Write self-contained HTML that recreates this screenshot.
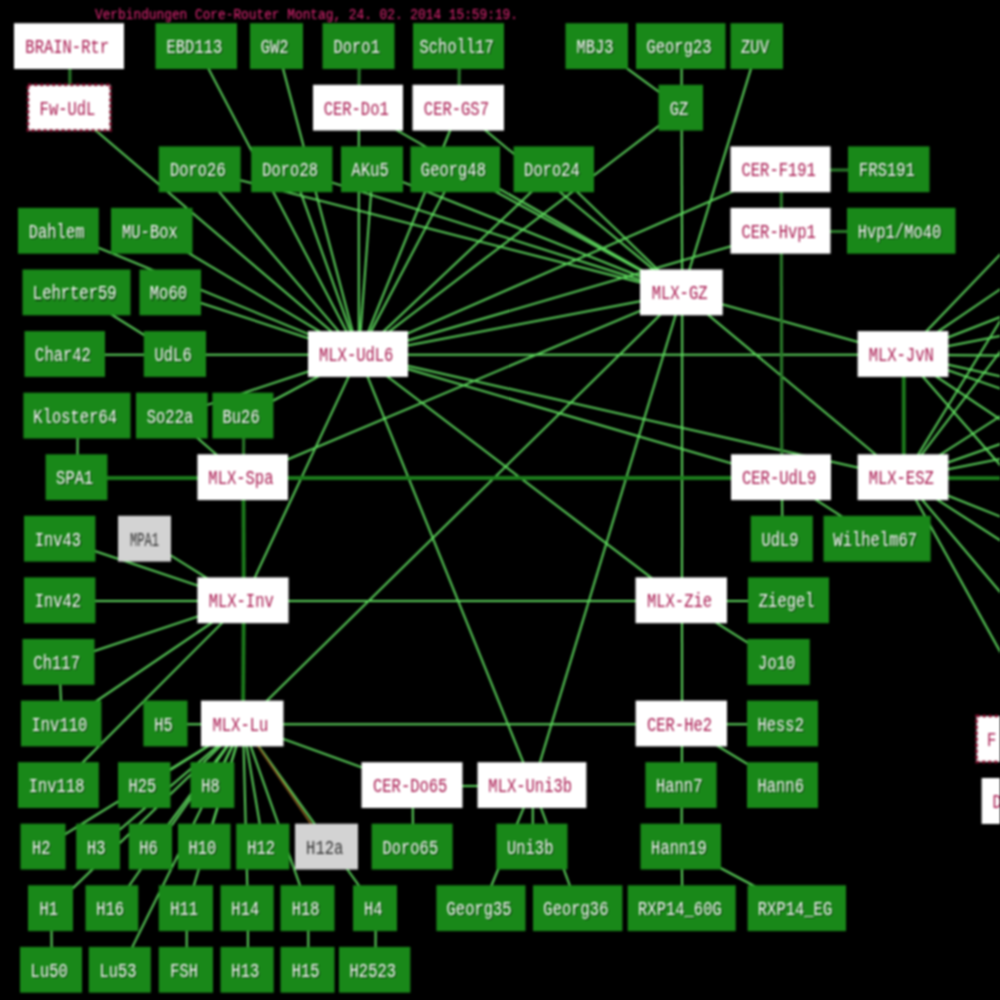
<!DOCTYPE html><html><head><meta charset="utf-8"><style>html,body{margin:0;padding:0;background:#000;width:1000px;height:1000px;overflow:hidden}svg{display:block}#w{filter:blur(1px);width:1000px;height:1000px}</style></head><body><div id="w">
<svg width="1000" height="1000" viewBox="0 0 1000 1000">
<rect x="0" y="0" width="1000" height="1000" fill="#000"/>
<text x="95" y="0" transform="translate(0 18.6) scale(1 1.45)" font-family="Liberation Mono" font-size="9.6" fill="#e8287a" textLength="423" lengthAdjust="spacingAndGlyphs">Verbindungen Core-Router Montag, 24. 02. 2014 15:59:19.</text>
<g transform="translate(0.8 0.8)"><g stroke="#5cd65c" stroke-width="2" fill="none">
<line x1="69.2" y1="107.7" x2="358.0" y2="354.0"/>
<line x1="196.2" y1="46.1" x2="358.0" y2="354.0"/>
<line x1="276.5" y1="46.1" x2="358.0" y2="354.0"/>
<line x1="358.0" y1="107.7" x2="358.0" y2="354.0"/>
<line x1="358.0" y1="107.7" x2="681.4" y2="292.4"/>
<line x1="458.2" y1="107.7" x2="358.0" y2="354.0"/>
<line x1="458.2" y1="107.7" x2="681.4" y2="292.4"/>
<line x1="596.8" y1="46.1" x2="680.8" y2="107.7"/>
<line x1="680.8" y1="46.1" x2="680.8" y2="107.7"/>
<line x1="680.8" y1="107.7" x2="681.4" y2="292.4"/>
<line x1="680.8" y1="107.7" x2="358.0" y2="354.0"/>
<line x1="756.8" y1="46.1" x2="681.4" y2="292.4"/>
<line x1="199.6" y1="169.3" x2="358.0" y2="354.0"/>
<line x1="199.6" y1="169.3" x2="681.4" y2="292.4"/>
<line x1="291.9" y1="169.3" x2="358.0" y2="354.0"/>
<line x1="291.9" y1="169.3" x2="681.4" y2="292.4"/>
<line x1="372.0" y1="169.3" x2="358.0" y2="354.0"/>
<line x1="372.0" y1="169.3" x2="681.4" y2="292.4"/>
<line x1="455.2" y1="169.3" x2="358.0" y2="354.0"/>
<line x1="455.2" y1="169.3" x2="681.4" y2="292.4"/>
<line x1="553.8" y1="169.3" x2="358.0" y2="354.0"/>
<line x1="553.8" y1="169.3" x2="681.4" y2="292.4"/>
<line x1="780.5" y1="169.3" x2="358.0" y2="354.0"/>
<line x1="780.5" y1="230.8" x2="358.0" y2="354.0"/>
<line x1="58.4" y1="230.8" x2="358.0" y2="354.0"/>
<line x1="151.8" y1="230.8" x2="358.0" y2="354.0"/>
<line x1="76.5" y1="292.4" x2="174.9" y2="354.0"/>
<line x1="170.2" y1="292.4" x2="358.0" y2="354.0"/>
<line x1="64.8" y1="354.0" x2="174.9" y2="354.0"/>
<line x1="174.9" y1="354.0" x2="358.0" y2="354.0"/>
<line x1="358.0" y1="354.0" x2="903.0" y2="354.0"/>
<line x1="358.0" y1="354.0" x2="681.4" y2="292.4"/>
<line x1="358.0" y1="354.0" x2="781.0" y2="477.2"/>
<line x1="358.0" y1="354.0" x2="903.0" y2="477.2"/>
<line x1="358.0" y1="354.0" x2="681.2" y2="600.3"/>
<line x1="358.0" y1="354.0" x2="532.0" y2="785.1"/>
<line x1="358.0" y1="354.0" x2="243.0" y2="600.3"/>
<line x1="77.0" y1="415.6" x2="76.5" y2="477.2"/>
<line x1="171.8" y1="415.6" x2="242.7" y2="477.2"/>
<line x1="242.9" y1="415.6" x2="358.0" y2="354.0"/>
<line x1="171.8" y1="415.6" x2="358.0" y2="354.0"/>
<line x1="242.7" y1="477.2" x2="681.4" y2="292.4"/>
<line x1="59.7" y1="538.7" x2="243.0" y2="600.3"/>
<line x1="144.5" y1="538.7" x2="243.0" y2="600.3"/>
<line x1="59.7" y1="600.3" x2="243.0" y2="600.3"/>
<line x1="58.5" y1="661.9" x2="243.0" y2="600.3"/>
<line x1="58.5" y1="661.9" x2="61.2" y2="723.5"/>
<line x1="61.2" y1="723.5" x2="243.0" y2="600.3"/>
<line x1="58.4" y1="785.1" x2="243.0" y2="600.3"/>
<line x1="243.0" y1="600.3" x2="681.2" y2="600.3"/>
<line x1="165.4" y1="723.5" x2="242.2" y2="723.5"/>
<line x1="242.2" y1="723.5" x2="681.3" y2="723.5"/>
<line x1="242.2" y1="723.5" x2="681.4" y2="292.4"/>
<line x1="242.2" y1="723.5" x2="412.0" y2="785.1"/>
<line x1="242.2" y1="723.5" x2="144.2" y2="785.1"/>
<line x1="242.2" y1="723.5" x2="212.4" y2="785.1"/>
<line x1="242.2" y1="723.5" x2="43.0" y2="846.6"/>
<line x1="242.2" y1="723.5" x2="98.1" y2="846.6"/>
<line x1="242.2" y1="723.5" x2="150.4" y2="846.6"/>
<line x1="242.2" y1="723.5" x2="204.2" y2="846.6"/>
<line x1="242.2" y1="723.5" x2="262.9" y2="846.6"/>
<line x1="242.2" y1="723.5" x2="50.5" y2="908.2"/>
<line x1="242.2" y1="723.5" x2="111.9" y2="908.2"/>
<line x1="242.2" y1="723.5" x2="185.9" y2="908.2"/>
<line x1="242.2" y1="723.5" x2="247.1" y2="908.2"/>
<line x1="242.2" y1="723.5" x2="307.5" y2="908.2"/>
<line x1="242.2" y1="723.5" x2="375.0" y2="908.2"/>
<line x1="242.2" y1="723.5" x2="119.8" y2="969.8"/>
<line x1="50.5" y1="908.2" x2="51.0" y2="969.8"/>
<line x1="185.9" y1="908.2" x2="185.9" y2="969.8"/>
<line x1="247.1" y1="908.2" x2="247.1" y2="969.8"/>
<line x1="307.5" y1="908.2" x2="307.5" y2="969.8"/>
<line x1="375.0" y1="908.2" x2="374.6" y2="969.8"/>
<line x1="412.0" y1="785.1" x2="412.1" y2="846.6"/>
<line x1="412.0" y1="785.1" x2="532.0" y2="785.1"/>
<line x1="532.0" y1="785.1" x2="532.0" y2="846.6"/>
<line x1="532.0" y1="785.1" x2="480.9" y2="908.2"/>
<line x1="532.0" y1="785.1" x2="577.7" y2="908.2"/>
<line x1="681.4" y1="292.4" x2="532.0" y2="785.1"/>
<line x1="681.4" y1="292.4" x2="681.2" y2="600.3"/>
<line x1="681.2" y1="600.3" x2="681.3" y2="723.5"/>
<line x1="681.3" y1="723.5" x2="681.0" y2="785.1"/>
<line x1="681.0" y1="785.1" x2="680.8" y2="846.6"/>
<line x1="680.8" y1="846.6" x2="681.7" y2="908.2"/>
<line x1="680.8" y1="846.6" x2="796.8" y2="908.2"/>
<line x1="681.2" y1="600.3" x2="788.5" y2="600.3"/>
<line x1="681.2" y1="600.3" x2="778.5" y2="661.9"/>
<line x1="681.3" y1="723.5" x2="782.5" y2="723.5"/>
<line x1="681.3" y1="723.5" x2="782.5" y2="785.1"/>
<line x1="781.0" y1="477.2" x2="781.8" y2="538.7"/>
<line x1="781.0" y1="477.2" x2="877.0" y2="538.7"/>
<line x1="681.4" y1="292.4" x2="903.0" y2="354.0"/>
<line x1="681.4" y1="292.4" x2="903.0" y2="477.2"/>
<line x1="903.0" y1="354.0" x2="1100.0" y2="148.9"/>
<line x1="903.0" y1="354.0" x2="1100.0" y2="220.0"/>
<line x1="903.0" y1="354.0" x2="1100.0" y2="276.8"/>
<line x1="903.0" y1="354.0" x2="1100.0" y2="315.4"/>
<line x1="903.0" y1="354.0" x2="1100.0" y2="355.2"/>
<line x1="903.0" y1="354.0" x2="1100.0" y2="397.9"/>
<line x1="903.0" y1="354.0" x2="1100.0" y2="423.1"/>
<line x1="903.0" y1="354.0" x2="1100.0" y2="486.0"/>
<line x1="903.0" y1="354.0" x2="1100.0" y2="579.4"/>
<line x1="903.0" y1="477.2" x2="1100.0" y2="155.9"/>
<line x1="903.0" y1="477.2" x2="1100.0" y2="218.9"/>
<line x1="903.0" y1="477.2" x2="1100.0" y2="350.9"/>
<line x1="903.0" y1="477.2" x2="1100.0" y2="407.8"/>
<line x1="903.0" y1="477.2" x2="1100.0" y2="438.2"/>
<line x1="903.0" y1="477.2" x2="1100.0" y2="556.0"/>
<line x1="903.0" y1="477.2" x2="1100.0" y2="604.8"/>
<line x1="903.0" y1="477.2" x2="1100.0" y2="710.4"/>
<line x1="903.0" y1="477.2" x2="1100.0" y2="832.2"/>
</g>
<g stroke="#1c7c1c" stroke-width="3.8" fill="none">
<line x1="903.0" y1="354.0" x2="903.0" y2="477.2"/>
<line x1="76.5" y1="477.2" x2="242.7" y2="477.2"/>
<line x1="242.7" y1="477.2" x2="243.0" y2="600.3"/>
<line x1="243.0" y1="600.3" x2="242.2" y2="723.5"/>
<line x1="242.7" y1="477.2" x2="781.0" y2="477.2"/>
<line x1="903.0" y1="477.2" x2="1100" y2="477.5"/>
</g>
<g stroke="#2a7a2a" stroke-width="3" fill="none">
<line x1="780.5" y1="230.8" x2="901.2" y2="230.8"/>
<line x1="780.5" y1="169.3" x2="888.8" y2="169.3"/>
<line x1="69.0" y1="46.1" x2="69.2" y2="107.7"/>
<line x1="242.9" y1="415.6" x2="242.7" y2="477.2"/>
<line x1="780.5" y1="169.3" x2="780.5" y2="230.8"/>
<line x1="780.5" y1="230.8" x2="781.0" y2="477.2"/>
<line x1="358.5" y1="46.1" x2="358.0" y2="107.7"/>
<line x1="458.5" y1="46.1" x2="458.2" y2="107.7"/>
</g>
<g stroke="#8a5a20" stroke-width="1.8" fill="none">
<line x1="242.2" y1="723.5" x2="326.5" y2="846.6"/>
</g>
</g>
<rect x="14.0" y="23.2" width="110.0" height="45.8" fill="#ffffff"/>
<text x="67.2" y="0" transform="translate(0 53.1) scale(1 1.28)" font-family="Liberation Mono" font-size="15.5" fill="#a8184f" stroke="#a8184f" stroke-width="0.0" text-anchor="middle">BRAIN-Rtr</text>
<rect x="155.5" y="23.2" width="81.5" height="45.8" fill="#198819"/>
<text x="195.5" y="0" transform="translate(0 54.2) scale(1 1.28)" font-family="Liberation Mono" font-size="15.5" fill="#0d3d0d" text-anchor="middle">EBD113</text>
<text x="194.4" y="0" transform="translate(0 53.1) scale(1 1.28)" font-family="Liberation Mono" font-size="15.5" fill="#ffffff" stroke="#198819" stroke-width="0.0" text-anchor="middle">EBD113</text>
<rect x="250.0" y="23.2" width="53.0" height="45.8" fill="#198819"/>
<text x="275.8" y="0" transform="translate(0 54.2) scale(1 1.28)" font-family="Liberation Mono" font-size="15.5" fill="#0d3d0d" text-anchor="middle">GW2</text>
<text x="274.7" y="0" transform="translate(0 53.1) scale(1 1.28)" font-family="Liberation Mono" font-size="15.5" fill="#ffffff" stroke="#198819" stroke-width="0.0" text-anchor="middle">GW2</text>
<rect x="322.5" y="23.2" width="72.0" height="45.8" fill="#198819"/>
<text x="357.8" y="0" transform="translate(0 54.2) scale(1 1.28)" font-family="Liberation Mono" font-size="15.5" fill="#0d3d0d" text-anchor="middle">Doro1</text>
<text x="356.7" y="0" transform="translate(0 53.1) scale(1 1.28)" font-family="Liberation Mono" font-size="15.5" fill="#ffffff" stroke="#198819" stroke-width="0.0" text-anchor="middle">Doro1</text>
<rect x="413.0" y="23.2" width="91.0" height="45.8" fill="#198819"/>
<text x="457.8" y="0" transform="translate(0 54.2) scale(1 1.28)" font-family="Liberation Mono" font-size="15.5" fill="#0d3d0d" text-anchor="middle">Scholl17</text>
<text x="456.7" y="0" transform="translate(0 53.1) scale(1 1.28)" font-family="Liberation Mono" font-size="15.5" fill="#ffffff" stroke="#198819" stroke-width="0.0" text-anchor="middle">Scholl17</text>
<rect x="565.5" y="23.2" width="62.5" height="45.8" fill="#198819"/>
<text x="596.1" y="0" transform="translate(0 54.2) scale(1 1.28)" font-family="Liberation Mono" font-size="15.5" fill="#0d3d0d" text-anchor="middle">MBJ3</text>
<text x="595.0" y="0" transform="translate(0 53.1) scale(1 1.28)" font-family="Liberation Mono" font-size="15.5" fill="#ffffff" stroke="#198819" stroke-width="0.0" text-anchor="middle">MBJ3</text>
<rect x="636.0" y="23.2" width="89.5" height="45.8" fill="#198819"/>
<text x="680.1" y="0" transform="translate(0 54.2) scale(1 1.28)" font-family="Liberation Mono" font-size="15.5" fill="#0d3d0d" text-anchor="middle">Georg23</text>
<text x="679.0" y="0" transform="translate(0 53.1) scale(1 1.28)" font-family="Liberation Mono" font-size="15.5" fill="#ffffff" stroke="#198819" stroke-width="0.0" text-anchor="middle">Georg23</text>
<rect x="730.5" y="23.2" width="52.5" height="45.8" fill="#198819"/>
<text x="756.1" y="0" transform="translate(0 54.2) scale(1 1.28)" font-family="Liberation Mono" font-size="15.5" fill="#0d3d0d" text-anchor="middle">ZUV</text>
<text x="755.0" y="0" transform="translate(0 53.1) scale(1 1.28)" font-family="Liberation Mono" font-size="15.5" fill="#ffffff" stroke="#198819" stroke-width="0.0" text-anchor="middle">ZUV</text>
<rect x="28.0" y="84.8" width="82.5" height="45.8" fill="#ffffff" stroke="#8a1030" stroke-width="2.5" stroke-dasharray="3.5 2.5"/>
<text x="67.5" y="0" transform="translate(0 114.7) scale(1 1.28)" font-family="Liberation Mono" font-size="15.5" fill="#a8184f" stroke="#a8184f" stroke-width="0.0" text-anchor="middle">Fw-UdL</text>
<rect x="313.0" y="84.8" width="90.0" height="45.8" fill="#ffffff"/>
<text x="356.2" y="0" transform="translate(0 114.7) scale(1 1.28)" font-family="Liberation Mono" font-size="15.5" fill="#a8184f" stroke="#a8184f" stroke-width="0.0" text-anchor="middle">CER-Do1</text>
<rect x="412.5" y="84.8" width="91.5" height="45.8" fill="#ffffff"/>
<text x="456.4" y="0" transform="translate(0 114.7) scale(1 1.28)" font-family="Liberation Mono" font-size="15.5" fill="#a8184f" stroke="#a8184f" stroke-width="0.0" text-anchor="middle">CER-GS7</text>
<rect x="658.5" y="84.8" width="44.5" height="45.8" fill="#198819"/>
<text x="680.1" y="0" transform="translate(0 115.8) scale(1 1.28)" font-family="Liberation Mono" font-size="15.5" fill="#0d3d0d" text-anchor="middle">GZ</text>
<text x="679.0" y="0" transform="translate(0 114.7) scale(1 1.28)" font-family="Liberation Mono" font-size="15.5" fill="#ffffff" stroke="#198819" stroke-width="0.0" text-anchor="middle">GZ</text>
<rect x="158.8" y="146.4" width="81.8" height="45.8" fill="#198819"/>
<text x="198.9" y="0" transform="translate(0 177.4) scale(1 1.28)" font-family="Liberation Mono" font-size="15.5" fill="#0d3d0d" text-anchor="middle">Doro26</text>
<text x="197.8" y="0" transform="translate(0 176.3) scale(1 1.28)" font-family="Liberation Mono" font-size="15.5" fill="#ffffff" stroke="#198819" stroke-width="0.0" text-anchor="middle">Doro26</text>
<rect x="251.2" y="146.4" width="81.2" height="45.8" fill="#198819"/>
<text x="291.2" y="0" transform="translate(0 177.4) scale(1 1.28)" font-family="Liberation Mono" font-size="15.5" fill="#0d3d0d" text-anchor="middle">Doro28</text>
<text x="290.1" y="0" transform="translate(0 176.3) scale(1 1.28)" font-family="Liberation Mono" font-size="15.5" fill="#ffffff" stroke="#198819" stroke-width="0.0" text-anchor="middle">Doro28</text>
<rect x="341.0" y="146.4" width="62.0" height="45.8" fill="#198819"/>
<text x="371.3" y="0" transform="translate(0 177.4) scale(1 1.28)" font-family="Liberation Mono" font-size="15.5" fill="#0d3d0d" text-anchor="middle">AKu5</text>
<text x="370.2" y="0" transform="translate(0 176.3) scale(1 1.28)" font-family="Liberation Mono" font-size="15.5" fill="#ffffff" stroke="#198819" stroke-width="0.0" text-anchor="middle">AKu5</text>
<rect x="410.5" y="146.4" width="89.5" height="45.8" fill="#198819"/>
<text x="454.6" y="0" transform="translate(0 177.4) scale(1 1.28)" font-family="Liberation Mono" font-size="15.5" fill="#0d3d0d" text-anchor="middle">Georg48</text>
<text x="453.4" y="0" transform="translate(0 176.3) scale(1 1.28)" font-family="Liberation Mono" font-size="15.5" fill="#ffffff" stroke="#198819" stroke-width="0.0" text-anchor="middle">Georg48</text>
<rect x="513.6" y="146.4" width="80.4" height="45.8" fill="#198819"/>
<text x="553.1" y="0" transform="translate(0 177.4) scale(1 1.28)" font-family="Liberation Mono" font-size="15.5" fill="#0d3d0d" text-anchor="middle">Doro24</text>
<text x="552.0" y="0" transform="translate(0 176.3) scale(1 1.28)" font-family="Liberation Mono" font-size="15.5" fill="#ffffff" stroke="#198819" stroke-width="0.0" text-anchor="middle">Doro24</text>
<rect x="730.5" y="146.4" width="100.0" height="45.8" fill="#ffffff"/>
<text x="778.7" y="0" transform="translate(0 176.3) scale(1 1.28)" font-family="Liberation Mono" font-size="15.5" fill="#a8184f" stroke="#a8184f" stroke-width="0.0" text-anchor="middle">CER-F191</text>
<rect x="848.0" y="146.4" width="81.5" height="45.8" fill="#198819"/>
<text x="888.1" y="0" transform="translate(0 177.4) scale(1 1.28)" font-family="Liberation Mono" font-size="15.5" fill="#0d3d0d" text-anchor="middle">FRS191</text>
<text x="887.0" y="0" transform="translate(0 176.3) scale(1 1.28)" font-family="Liberation Mono" font-size="15.5" fill="#ffffff" stroke="#198819" stroke-width="0.0" text-anchor="middle">FRS191</text>
<rect x="18.0" y="207.9" width="80.8" height="45.8" fill="#198819"/>
<text x="57.7" y="0" transform="translate(0 239.0) scale(1 1.28)" font-family="Liberation Mono" font-size="15.5" fill="#0d3d0d" text-anchor="middle">Dahlem</text>
<text x="56.6" y="0" transform="translate(0 237.9) scale(1 1.28)" font-family="Liberation Mono" font-size="15.5" fill="#ffffff" stroke="#198819" stroke-width="0.0" text-anchor="middle">Dahlem</text>
<rect x="111.0" y="207.9" width="81.5" height="45.8" fill="#198819"/>
<text x="151.0" y="0" transform="translate(0 239.0) scale(1 1.28)" font-family="Liberation Mono" font-size="15.5" fill="#0d3d0d" text-anchor="middle">MU-Box</text>
<text x="149.9" y="0" transform="translate(0 237.9) scale(1 1.28)" font-family="Liberation Mono" font-size="15.5" fill="#ffffff" stroke="#198819" stroke-width="0.0" text-anchor="middle">MU-Box</text>
<rect x="730.5" y="207.9" width="100.0" height="45.8" fill="#ffffff"/>
<text x="778.7" y="0" transform="translate(0 237.9) scale(1 1.28)" font-family="Liberation Mono" font-size="15.5" fill="#a8184f" stroke="#a8184f" stroke-width="0.0" text-anchor="middle">CER-Hvp1</text>
<rect x="847.0" y="207.9" width="108.5" height="45.8" fill="#198819"/>
<text x="900.6" y="0" transform="translate(0 239.0) scale(1 1.28)" font-family="Liberation Mono" font-size="15.5" fill="#0d3d0d" text-anchor="middle">Hvp1/Mo40</text>
<text x="899.5" y="0" transform="translate(0 237.9) scale(1 1.28)" font-family="Liberation Mono" font-size="15.5" fill="#ffffff" stroke="#198819" stroke-width="0.0" text-anchor="middle">Hvp1/Mo40</text>
<rect x="22.5" y="269.5" width="108.0" height="45.8" fill="#198819"/>
<text x="75.8" y="0" transform="translate(0 300.5) scale(1 1.28)" font-family="Liberation Mono" font-size="15.5" fill="#0d3d0d" text-anchor="middle">Lehrter59</text>
<text x="74.7" y="0" transform="translate(0 299.4) scale(1 1.28)" font-family="Liberation Mono" font-size="15.5" fill="#ffffff" stroke="#198819" stroke-width="0.0" text-anchor="middle">Lehrter59</text>
<rect x="139.5" y="269.5" width="61.5" height="45.8" fill="#198819"/>
<text x="169.5" y="0" transform="translate(0 300.5) scale(1 1.28)" font-family="Liberation Mono" font-size="15.5" fill="#0d3d0d" text-anchor="middle">Mo60</text>
<text x="168.4" y="0" transform="translate(0 299.4) scale(1 1.28)" font-family="Liberation Mono" font-size="15.5" fill="#ffffff" stroke="#198819" stroke-width="0.0" text-anchor="middle">Mo60</text>
<rect x="640.0" y="269.5" width="82.7" height="45.8" fill="#ffffff"/>
<text x="679.6" y="0" transform="translate(0 299.4) scale(1 1.28)" font-family="Liberation Mono" font-size="15.5" fill="#a8184f" stroke="#a8184f" stroke-width="0.0" text-anchor="middle">MLX-GZ</text>
<rect x="24.5" y="331.1" width="80.5" height="45.8" fill="#198819"/>
<text x="64.0" y="0" transform="translate(0 362.1) scale(1 1.28)" font-family="Liberation Mono" font-size="15.5" fill="#0d3d0d" text-anchor="middle">Char42</text>
<text x="63.0" y="0" transform="translate(0 361.0) scale(1 1.28)" font-family="Liberation Mono" font-size="15.5" fill="#ffffff" stroke="#198819" stroke-width="0.0" text-anchor="middle">Char42</text>
<rect x="143.8" y="331.1" width="62.2" height="45.8" fill="#198819"/>
<text x="174.2" y="0" transform="translate(0 362.1) scale(1 1.28)" font-family="Liberation Mono" font-size="15.5" fill="#0d3d0d" text-anchor="middle">UdL6</text>
<text x="173.1" y="0" transform="translate(0 361.0) scale(1 1.28)" font-family="Liberation Mono" font-size="15.5" fill="#ffffff" stroke="#198819" stroke-width="0.0" text-anchor="middle">UdL6</text>
<rect x="308.0" y="331.1" width="100.0" height="45.8" fill="#ffffff"/>
<text x="356.2" y="0" transform="translate(0 361.0) scale(1 1.28)" font-family="Liberation Mono" font-size="15.5" fill="#a8184f" stroke="#a8184f" stroke-width="0.0" text-anchor="middle">MLX-UdL6</text>
<rect x="857.6" y="331.1" width="90.8" height="45.8" fill="#ffffff"/>
<text x="901.2" y="0" transform="translate(0 361.0) scale(1 1.28)" font-family="Liberation Mono" font-size="15.5" fill="#a8184f" stroke="#a8184f" stroke-width="0.0" text-anchor="middle">MLX-JvN</text>
<rect x="23.4" y="392.7" width="107.1" height="45.8" fill="#198819"/>
<text x="76.2" y="0" transform="translate(0 423.7) scale(1 1.28)" font-family="Liberation Mono" font-size="15.5" fill="#0d3d0d" text-anchor="middle">Kloster64</text>
<text x="75.2" y="0" transform="translate(0 422.6) scale(1 1.28)" font-family="Liberation Mono" font-size="15.5" fill="#ffffff" stroke="#198819" stroke-width="0.0" text-anchor="middle">Kloster64</text>
<rect x="136.0" y="392.7" width="71.6" height="45.8" fill="#198819"/>
<text x="171.1" y="0" transform="translate(0 423.7) scale(1 1.28)" font-family="Liberation Mono" font-size="15.5" fill="#0d3d0d" text-anchor="middle">So22a</text>
<text x="170.0" y="0" transform="translate(0 422.6) scale(1 1.28)" font-family="Liberation Mono" font-size="15.5" fill="#ffffff" stroke="#198819" stroke-width="0.0" text-anchor="middle">So22a</text>
<rect x="212.4" y="392.7" width="61.0" height="45.8" fill="#198819"/>
<text x="242.2" y="0" transform="translate(0 423.7) scale(1 1.28)" font-family="Liberation Mono" font-size="15.5" fill="#0d3d0d" text-anchor="middle">Bu26</text>
<text x="241.1" y="0" transform="translate(0 422.6) scale(1 1.28)" font-family="Liberation Mono" font-size="15.5" fill="#ffffff" stroke="#198819" stroke-width="0.0" text-anchor="middle">Bu26</text>
<rect x="45.6" y="454.3" width="61.8" height="45.8" fill="#198819"/>
<text x="75.8" y="0" transform="translate(0 485.3) scale(1 1.28)" font-family="Liberation Mono" font-size="15.5" fill="#0d3d0d" text-anchor="middle">SPA1</text>
<text x="74.7" y="0" transform="translate(0 484.2) scale(1 1.28)" font-family="Liberation Mono" font-size="15.5" fill="#ffffff" stroke="#198819" stroke-width="0.0" text-anchor="middle">SPA1</text>
<rect x="197.4" y="454.3" width="90.6" height="45.8" fill="#ffffff"/>
<text x="240.9" y="0" transform="translate(0 484.2) scale(1 1.28)" font-family="Liberation Mono" font-size="15.5" fill="#a8184f" stroke="#a8184f" stroke-width="0.0" text-anchor="middle">MLX-Spa</text>
<rect x="731.0" y="454.3" width="100.0" height="45.8" fill="#ffffff"/>
<text x="779.2" y="0" transform="translate(0 484.2) scale(1 1.28)" font-family="Liberation Mono" font-size="15.5" fill="#a8184f" stroke="#a8184f" stroke-width="0.0" text-anchor="middle">CER-UdL9</text>
<rect x="857.6" y="454.3" width="90.8" height="45.8" fill="#ffffff"/>
<text x="901.2" y="0" transform="translate(0 484.2) scale(1 1.28)" font-family="Liberation Mono" font-size="15.5" fill="#a8184f" stroke="#a8184f" stroke-width="0.0" text-anchor="middle">MLX-ESZ</text>
<rect x="24.0" y="515.8" width="71.4" height="45.8" fill="#198819"/>
<text x="59.0" y="0" transform="translate(0 546.9) scale(1 1.28)" font-family="Liberation Mono" font-size="15.5" fill="#0d3d0d" text-anchor="middle">Inv43</text>
<text x="57.9" y="0" transform="translate(0 545.8) scale(1 1.28)" font-family="Liberation Mono" font-size="15.5" fill="#ffffff" stroke="#198819" stroke-width="0.0" text-anchor="middle">Inv43</text>
<rect x="118.0" y="515.8" width="53.0" height="45.8" fill="#d3d3d3"/>
<text x="144.5" y="0" transform="translate(0 545.8) scale(1 1.28)" font-family="Liberation Mono" font-size="15.5" fill="#333333" stroke="#333333" stroke-width="0.0" text-anchor="middle" textLength="29" lengthAdjust="spacingAndGlyphs">MPA1</text>
<rect x="750.7" y="515.8" width="62.1" height="45.8" fill="#198819"/>
<text x="781.1" y="0" transform="translate(0 546.9) scale(1 1.28)" font-family="Liberation Mono" font-size="15.5" fill="#0d3d0d" text-anchor="middle">UdL9</text>
<text x="780.0" y="0" transform="translate(0 545.8) scale(1 1.28)" font-family="Liberation Mono" font-size="15.5" fill="#ffffff" stroke="#198819" stroke-width="0.0" text-anchor="middle">UdL9</text>
<rect x="823.5" y="515.8" width="107.1" height="45.8" fill="#198819"/>
<text x="876.4" y="0" transform="translate(0 546.9) scale(1 1.28)" font-family="Liberation Mono" font-size="15.5" fill="#0d3d0d" text-anchor="middle">Wilhelm67</text>
<text x="875.2" y="0" transform="translate(0 545.8) scale(1 1.28)" font-family="Liberation Mono" font-size="15.5" fill="#ffffff" stroke="#198819" stroke-width="0.0" text-anchor="middle">Wilhelm67</text>
<rect x="24.0" y="577.4" width="71.4" height="45.8" fill="#198819"/>
<text x="59.0" y="0" transform="translate(0 608.4) scale(1 1.28)" font-family="Liberation Mono" font-size="15.5" fill="#0d3d0d" text-anchor="middle">Inv42</text>
<text x="57.9" y="0" transform="translate(0 607.3) scale(1 1.28)" font-family="Liberation Mono" font-size="15.5" fill="#ffffff" stroke="#198819" stroke-width="0.0" text-anchor="middle">Inv42</text>
<rect x="197.4" y="577.4" width="91.2" height="45.8" fill="#ffffff"/>
<text x="241.2" y="0" transform="translate(0 607.3) scale(1 1.28)" font-family="Liberation Mono" font-size="15.5" fill="#a8184f" stroke="#a8184f" stroke-width="0.0" text-anchor="middle">MLX-Inv</text>
<rect x="635.5" y="577.4" width="91.5" height="45.8" fill="#ffffff"/>
<text x="679.5" y="0" transform="translate(0 607.3) scale(1 1.28)" font-family="Liberation Mono" font-size="15.5" fill="#a8184f" stroke="#a8184f" stroke-width="0.0" text-anchor="middle">MLX-Zie</text>
<rect x="748.0" y="577.4" width="81.0" height="45.8" fill="#198819"/>
<text x="787.8" y="0" transform="translate(0 608.4) scale(1 1.28)" font-family="Liberation Mono" font-size="15.5" fill="#0d3d0d" text-anchor="middle">Ziegel</text>
<text x="786.7" y="0" transform="translate(0 607.3) scale(1 1.28)" font-family="Liberation Mono" font-size="15.5" fill="#ffffff" stroke="#198819" stroke-width="0.0" text-anchor="middle">Ziegel</text>
<rect x="22.5" y="639.0" width="72.0" height="45.8" fill="#198819"/>
<text x="57.8" y="0" transform="translate(0 670.0) scale(1 1.28)" font-family="Liberation Mono" font-size="15.5" fill="#0d3d0d" text-anchor="middle">Ch117</text>
<text x="56.7" y="0" transform="translate(0 668.9) scale(1 1.28)" font-family="Liberation Mono" font-size="15.5" fill="#ffffff" stroke="#198819" stroke-width="0.0" text-anchor="middle">Ch117</text>
<rect x="747.3" y="639.0" width="62.4" height="45.8" fill="#198819"/>
<text x="777.8" y="0" transform="translate(0 670.0) scale(1 1.28)" font-family="Liberation Mono" font-size="15.5" fill="#0d3d0d" text-anchor="middle">Jo10</text>
<text x="776.7" y="0" transform="translate(0 668.9) scale(1 1.28)" font-family="Liberation Mono" font-size="15.5" fill="#ffffff" stroke="#198819" stroke-width="0.0" text-anchor="middle">Jo10</text>
<rect x="21.0" y="700.6" width="80.4" height="45.8" fill="#198819"/>
<text x="60.5" y="0" transform="translate(0 731.6) scale(1 1.28)" font-family="Liberation Mono" font-size="15.5" fill="#0d3d0d" text-anchor="middle">Inv110</text>
<text x="59.4" y="0" transform="translate(0 730.5) scale(1 1.28)" font-family="Liberation Mono" font-size="15.5" fill="#ffffff" stroke="#198819" stroke-width="0.0" text-anchor="middle">Inv110</text>
<rect x="143.4" y="700.6" width="44.1" height="45.8" fill="#198819"/>
<text x="164.7" y="0" transform="translate(0 731.6) scale(1 1.28)" font-family="Liberation Mono" font-size="15.5" fill="#0d3d0d" text-anchor="middle">H5</text>
<text x="163.6" y="0" transform="translate(0 730.5) scale(1 1.28)" font-family="Liberation Mono" font-size="15.5" fill="#ffffff" stroke="#198819" stroke-width="0.0" text-anchor="middle">H5</text>
<rect x="201.0" y="700.6" width="82.5" height="45.8" fill="#ffffff"/>
<text x="240.4" y="0" transform="translate(0 730.5) scale(1 1.28)" font-family="Liberation Mono" font-size="15.5" fill="#a8184f" stroke="#a8184f" stroke-width="0.0" text-anchor="middle">MLX-Lu</text>
<rect x="635.6" y="700.6" width="91.4" height="45.8" fill="#ffffff"/>
<text x="679.5" y="0" transform="translate(0 730.5) scale(1 1.28)" font-family="Liberation Mono" font-size="15.5" fill="#a8184f" stroke="#a8184f" stroke-width="0.0" text-anchor="middle">CER-He2</text>
<rect x="747.0" y="700.6" width="71.0" height="45.8" fill="#198819"/>
<text x="781.8" y="0" transform="translate(0 731.6) scale(1 1.28)" font-family="Liberation Mono" font-size="15.5" fill="#0d3d0d" text-anchor="middle">Hess2</text>
<text x="780.7" y="0" transform="translate(0 730.5) scale(1 1.28)" font-family="Liberation Mono" font-size="15.5" fill="#ffffff" stroke="#198819" stroke-width="0.0" text-anchor="middle">Hess2</text>
<rect x="18.0" y="762.2" width="80.8" height="45.8" fill="#198819"/>
<text x="57.7" y="0" transform="translate(0 793.2) scale(1 1.28)" font-family="Liberation Mono" font-size="15.5" fill="#0d3d0d" text-anchor="middle">Inv118</text>
<text x="56.6" y="0" transform="translate(0 792.1) scale(1 1.28)" font-family="Liberation Mono" font-size="15.5" fill="#ffffff" stroke="#198819" stroke-width="0.0" text-anchor="middle">Inv118</text>
<rect x="118.0" y="762.2" width="52.5" height="45.8" fill="#198819"/>
<text x="143.5" y="0" transform="translate(0 793.2) scale(1 1.28)" font-family="Liberation Mono" font-size="15.5" fill="#0d3d0d" text-anchor="middle">H25</text>
<text x="142.4" y="0" transform="translate(0 792.1) scale(1 1.28)" font-family="Liberation Mono" font-size="15.5" fill="#ffffff" stroke="#198819" stroke-width="0.0" text-anchor="middle">H25</text>
<rect x="190.5" y="762.2" width="43.8" height="45.8" fill="#198819"/>
<text x="211.7" y="0" transform="translate(0 793.2) scale(1 1.28)" font-family="Liberation Mono" font-size="15.5" fill="#0d3d0d" text-anchor="middle">H8</text>
<text x="210.6" y="0" transform="translate(0 792.1) scale(1 1.28)" font-family="Liberation Mono" font-size="15.5" fill="#ffffff" stroke="#198819" stroke-width="0.0" text-anchor="middle">H8</text>
<rect x="361.5" y="762.2" width="101.0" height="45.8" fill="#ffffff"/>
<text x="410.2" y="0" transform="translate(0 792.1) scale(1 1.28)" font-family="Liberation Mono" font-size="15.5" fill="#a8184f" stroke="#a8184f" stroke-width="0.0" text-anchor="middle">CER-Do65</text>
<rect x="477.5" y="762.2" width="108.9" height="45.8" fill="#ffffff"/>
<text x="530.2" y="0" transform="translate(0 792.1) scale(1 1.28)" font-family="Liberation Mono" font-size="15.5" fill="#a8184f" stroke="#a8184f" stroke-width="0.0" text-anchor="middle">MLX-Uni3b</text>
<rect x="645.4" y="762.2" width="71.2" height="45.8" fill="#198819"/>
<text x="680.3" y="0" transform="translate(0 793.2) scale(1 1.28)" font-family="Liberation Mono" font-size="15.5" fill="#0d3d0d" text-anchor="middle">Hann7</text>
<text x="679.2" y="0" transform="translate(0 792.1) scale(1 1.28)" font-family="Liberation Mono" font-size="15.5" fill="#ffffff" stroke="#198819" stroke-width="0.0" text-anchor="middle">Hann7</text>
<rect x="747.0" y="762.2" width="71.0" height="45.8" fill="#198819"/>
<text x="781.8" y="0" transform="translate(0 793.2) scale(1 1.28)" font-family="Liberation Mono" font-size="15.5" fill="#0d3d0d" text-anchor="middle">Hann6</text>
<text x="780.7" y="0" transform="translate(0 792.1) scale(1 1.28)" font-family="Liberation Mono" font-size="15.5" fill="#ffffff" stroke="#198819" stroke-width="0.0" text-anchor="middle">Hann6</text>
<rect x="20.5" y="823.7" width="45.0" height="45.8" fill="#198819"/>
<text x="42.3" y="0" transform="translate(0 854.8) scale(1 1.28)" font-family="Liberation Mono" font-size="15.5" fill="#0d3d0d" text-anchor="middle">H2</text>
<text x="41.2" y="0" transform="translate(0 853.7) scale(1 1.28)" font-family="Liberation Mono" font-size="15.5" fill="#ffffff" stroke="#198819" stroke-width="0.0" text-anchor="middle">H2</text>
<rect x="76.2" y="823.7" width="43.8" height="45.8" fill="#198819"/>
<text x="97.4" y="0" transform="translate(0 854.8) scale(1 1.28)" font-family="Liberation Mono" font-size="15.5" fill="#0d3d0d" text-anchor="middle">H3</text>
<text x="96.3" y="0" transform="translate(0 853.7) scale(1 1.28)" font-family="Liberation Mono" font-size="15.5" fill="#ffffff" stroke="#198819" stroke-width="0.0" text-anchor="middle">H3</text>
<rect x="128.8" y="823.7" width="43.2" height="45.8" fill="#198819"/>
<text x="149.7" y="0" transform="translate(0 854.8) scale(1 1.28)" font-family="Liberation Mono" font-size="15.5" fill="#0d3d0d" text-anchor="middle">H6</text>
<text x="148.6" y="0" transform="translate(0 853.7) scale(1 1.28)" font-family="Liberation Mono" font-size="15.5" fill="#ffffff" stroke="#198819" stroke-width="0.0" text-anchor="middle">H6</text>
<rect x="178.0" y="823.7" width="52.5" height="45.8" fill="#198819"/>
<text x="203.5" y="0" transform="translate(0 854.8) scale(1 1.28)" font-family="Liberation Mono" font-size="15.5" fill="#0d3d0d" text-anchor="middle">H10</text>
<text x="202.4" y="0" transform="translate(0 853.7) scale(1 1.28)" font-family="Liberation Mono" font-size="15.5" fill="#ffffff" stroke="#198819" stroke-width="0.0" text-anchor="middle">H10</text>
<rect x="236.2" y="823.7" width="53.2" height="45.8" fill="#198819"/>
<text x="262.2" y="0" transform="translate(0 854.8) scale(1 1.28)" font-family="Liberation Mono" font-size="15.5" fill="#0d3d0d" text-anchor="middle">H12</text>
<text x="261.1" y="0" transform="translate(0 853.7) scale(1 1.28)" font-family="Liberation Mono" font-size="15.5" fill="#ffffff" stroke="#198819" stroke-width="0.0" text-anchor="middle">H12</text>
<rect x="295.0" y="823.7" width="63.0" height="45.8" fill="#d3d3d3"/>
<text x="324.7" y="0" transform="translate(0 853.7) scale(1 1.28)" font-family="Liberation Mono" font-size="15.5" fill="#333333" stroke="#333333" stroke-width="0.0" text-anchor="middle">H12a</text>
<rect x="371.6" y="823.7" width="81.0" height="45.8" fill="#198819"/>
<text x="411.4" y="0" transform="translate(0 854.8) scale(1 1.28)" font-family="Liberation Mono" font-size="15.5" fill="#0d3d0d" text-anchor="middle">Doro65</text>
<text x="410.3" y="0" transform="translate(0 853.7) scale(1 1.28)" font-family="Liberation Mono" font-size="15.5" fill="#ffffff" stroke="#198819" stroke-width="0.0" text-anchor="middle">Doro65</text>
<rect x="496.4" y="823.7" width="71.1" height="45.8" fill="#198819"/>
<text x="531.3" y="0" transform="translate(0 854.8) scale(1 1.28)" font-family="Liberation Mono" font-size="15.5" fill="#0d3d0d" text-anchor="middle">Uni3b</text>
<text x="530.2" y="0" transform="translate(0 853.7) scale(1 1.28)" font-family="Liberation Mono" font-size="15.5" fill="#ffffff" stroke="#198819" stroke-width="0.0" text-anchor="middle">Uni3b</text>
<rect x="640.5" y="823.7" width="80.5" height="45.8" fill="#198819"/>
<text x="680.1" y="0" transform="translate(0 854.8) scale(1 1.28)" font-family="Liberation Mono" font-size="15.5" fill="#0d3d0d" text-anchor="middle">Hann19</text>
<text x="679.0" y="0" transform="translate(0 853.7) scale(1 1.28)" font-family="Liberation Mono" font-size="15.5" fill="#ffffff" stroke="#198819" stroke-width="0.0" text-anchor="middle">Hann19</text>
<rect x="28.0" y="885.3" width="45.0" height="45.8" fill="#198819"/>
<text x="49.8" y="0" transform="translate(0 916.3) scale(1 1.28)" font-family="Liberation Mono" font-size="15.5" fill="#0d3d0d" text-anchor="middle">H1</text>
<text x="48.7" y="0" transform="translate(0 915.2) scale(1 1.28)" font-family="Liberation Mono" font-size="15.5" fill="#ffffff" stroke="#198819" stroke-width="0.0" text-anchor="middle">H1</text>
<rect x="85.5" y="885.3" width="52.8" height="45.8" fill="#198819"/>
<text x="111.2" y="0" transform="translate(0 916.3) scale(1 1.28)" font-family="Liberation Mono" font-size="15.5" fill="#0d3d0d" text-anchor="middle">H16</text>
<text x="110.1" y="0" transform="translate(0 915.2) scale(1 1.28)" font-family="Liberation Mono" font-size="15.5" fill="#ffffff" stroke="#198819" stroke-width="0.0" text-anchor="middle">H16</text>
<rect x="158.8" y="885.3" width="54.2" height="45.8" fill="#198819"/>
<text x="185.2" y="0" transform="translate(0 916.3) scale(1 1.28)" font-family="Liberation Mono" font-size="15.5" fill="#0d3d0d" text-anchor="middle">H11</text>
<text x="184.1" y="0" transform="translate(0 915.2) scale(1 1.28)" font-family="Liberation Mono" font-size="15.5" fill="#ffffff" stroke="#198819" stroke-width="0.0" text-anchor="middle">H11</text>
<rect x="220.5" y="885.3" width="53.2" height="45.8" fill="#198819"/>
<text x="246.4" y="0" transform="translate(0 916.3) scale(1 1.28)" font-family="Liberation Mono" font-size="15.5" fill="#0d3d0d" text-anchor="middle">H14</text>
<text x="245.3" y="0" transform="translate(0 915.2) scale(1 1.28)" font-family="Liberation Mono" font-size="15.5" fill="#ffffff" stroke="#198819" stroke-width="0.0" text-anchor="middle">H14</text>
<rect x="280.5" y="885.3" width="54.0" height="45.8" fill="#198819"/>
<text x="306.8" y="0" transform="translate(0 916.3) scale(1 1.28)" font-family="Liberation Mono" font-size="15.5" fill="#0d3d0d" text-anchor="middle">H18</text>
<text x="305.7" y="0" transform="translate(0 915.2) scale(1 1.28)" font-family="Liberation Mono" font-size="15.5" fill="#ffffff" stroke="#198819" stroke-width="0.0" text-anchor="middle">H18</text>
<rect x="353.0" y="885.3" width="44.0" height="45.8" fill="#198819"/>
<text x="374.3" y="0" transform="translate(0 916.3) scale(1 1.28)" font-family="Liberation Mono" font-size="15.5" fill="#0d3d0d" text-anchor="middle">H4</text>
<text x="373.2" y="0" transform="translate(0 915.2) scale(1 1.28)" font-family="Liberation Mono" font-size="15.5" fill="#ffffff" stroke="#198819" stroke-width="0.0" text-anchor="middle">H4</text>
<rect x="436.4" y="885.3" width="89.1" height="45.8" fill="#198819"/>
<text x="480.2" y="0" transform="translate(0 916.3) scale(1 1.28)" font-family="Liberation Mono" font-size="15.5" fill="#0d3d0d" text-anchor="middle">Georg35</text>
<text x="479.1" y="0" transform="translate(0 915.2) scale(1 1.28)" font-family="Liberation Mono" font-size="15.5" fill="#ffffff" stroke="#198819" stroke-width="0.0" text-anchor="middle">Georg35</text>
<rect x="533.0" y="885.3" width="89.4" height="45.8" fill="#198819"/>
<text x="577.0" y="0" transform="translate(0 916.3) scale(1 1.28)" font-family="Liberation Mono" font-size="15.5" fill="#0d3d0d" text-anchor="middle">Georg36</text>
<text x="575.9" y="0" transform="translate(0 915.2) scale(1 1.28)" font-family="Liberation Mono" font-size="15.5" fill="#ffffff" stroke="#198819" stroke-width="0.0" text-anchor="middle">Georg36</text>
<rect x="627.7" y="885.3" width="108.0" height="45.8" fill="#198819"/>
<text x="681.0" y="0" transform="translate(0 916.3) scale(1 1.28)" font-family="Liberation Mono" font-size="15.5" fill="#0d3d0d" text-anchor="middle">RXP14_60G</text>
<text x="679.9" y="0" transform="translate(0 915.2) scale(1 1.28)" font-family="Liberation Mono" font-size="15.5" fill="#ffffff" stroke="#198819" stroke-width="0.0" text-anchor="middle">RXP14_60G</text>
<rect x="747.6" y="885.3" width="98.4" height="45.8" fill="#198819"/>
<text x="796.1" y="0" transform="translate(0 916.3) scale(1 1.28)" font-family="Liberation Mono" font-size="15.5" fill="#0d3d0d" text-anchor="middle">RXP14_EG</text>
<text x="795.0" y="0" transform="translate(0 915.2) scale(1 1.28)" font-family="Liberation Mono" font-size="15.5" fill="#ffffff" stroke="#198819" stroke-width="0.0" text-anchor="middle">RXP14_EG</text>
<rect x="20.0" y="946.9" width="62.0" height="45.8" fill="#198819"/>
<text x="50.3" y="0" transform="translate(0 977.9) scale(1 1.28)" font-family="Liberation Mono" font-size="15.5" fill="#0d3d0d" text-anchor="middle">Lu50</text>
<text x="49.2" y="0" transform="translate(0 976.8) scale(1 1.28)" font-family="Liberation Mono" font-size="15.5" fill="#ffffff" stroke="#198819" stroke-width="0.0" text-anchor="middle">Lu50</text>
<rect x="88.8" y="946.9" width="62.0" height="45.8" fill="#198819"/>
<text x="119.0" y="0" transform="translate(0 977.9) scale(1 1.28)" font-family="Liberation Mono" font-size="15.5" fill="#0d3d0d" text-anchor="middle">Lu53</text>
<text x="118.0" y="0" transform="translate(0 976.8) scale(1 1.28)" font-family="Liberation Mono" font-size="15.5" fill="#ffffff" stroke="#198819" stroke-width="0.0" text-anchor="middle">Lu53</text>
<rect x="158.8" y="946.9" width="54.2" height="45.8" fill="#198819"/>
<text x="185.2" y="0" transform="translate(0 977.9) scale(1 1.28)" font-family="Liberation Mono" font-size="15.5" fill="#0d3d0d" text-anchor="middle">FSH</text>
<text x="184.1" y="0" transform="translate(0 976.8) scale(1 1.28)" font-family="Liberation Mono" font-size="15.5" fill="#ffffff" stroke="#198819" stroke-width="0.0" text-anchor="middle">FSH</text>
<rect x="220.5" y="946.9" width="53.2" height="45.8" fill="#198819"/>
<text x="246.4" y="0" transform="translate(0 977.9) scale(1 1.28)" font-family="Liberation Mono" font-size="15.5" fill="#0d3d0d" text-anchor="middle">H13</text>
<text x="245.3" y="0" transform="translate(0 976.8) scale(1 1.28)" font-family="Liberation Mono" font-size="15.5" fill="#ffffff" stroke="#198819" stroke-width="0.0" text-anchor="middle">H13</text>
<rect x="280.5" y="946.9" width="54.0" height="45.8" fill="#198819"/>
<text x="306.8" y="0" transform="translate(0 977.9) scale(1 1.28)" font-family="Liberation Mono" font-size="15.5" fill="#0d3d0d" text-anchor="middle">H15</text>
<text x="305.7" y="0" transform="translate(0 976.8) scale(1 1.28)" font-family="Liberation Mono" font-size="15.5" fill="#ffffff" stroke="#198819" stroke-width="0.0" text-anchor="middle">H15</text>
<rect x="339.0" y="946.9" width="71.3" height="45.8" fill="#198819"/>
<text x="373.9" y="0" transform="translate(0 977.9) scale(1 1.28)" font-family="Liberation Mono" font-size="15.5" fill="#0d3d0d" text-anchor="middle">H2523</text>
<text x="372.8" y="0" transform="translate(0 976.8) scale(1 1.28)" font-family="Liberation Mono" font-size="15.5" fill="#ffffff" stroke="#198819" stroke-width="0.0" text-anchor="middle">H2523</text>
<rect x="976.5" y="716.0" width="83.5" height="46.0" fill="#ffffff" stroke="#8a1030" stroke-width="2.5" stroke-dasharray="3.5 2.5"/>
<text x="987.0" y="0" transform="translate(0 746.0) scale(1 1.28)" font-family="Liberation Mono" font-size="15.5" fill="#a8184f" stroke="#a8184f" stroke-width="0.0" text-anchor="start">F</text>
<rect x="981.6" y="778.0" width="88.4" height="46.0" fill="#ffffff"/>
<text x="992.6" y="0" transform="translate(0 808.0) scale(1 1.28)" font-family="Liberation Mono" font-size="15.5" fill="#a8184f" stroke="#a8184f" stroke-width="0.0" text-anchor="start">D</text>
</svg></div></body></html>
